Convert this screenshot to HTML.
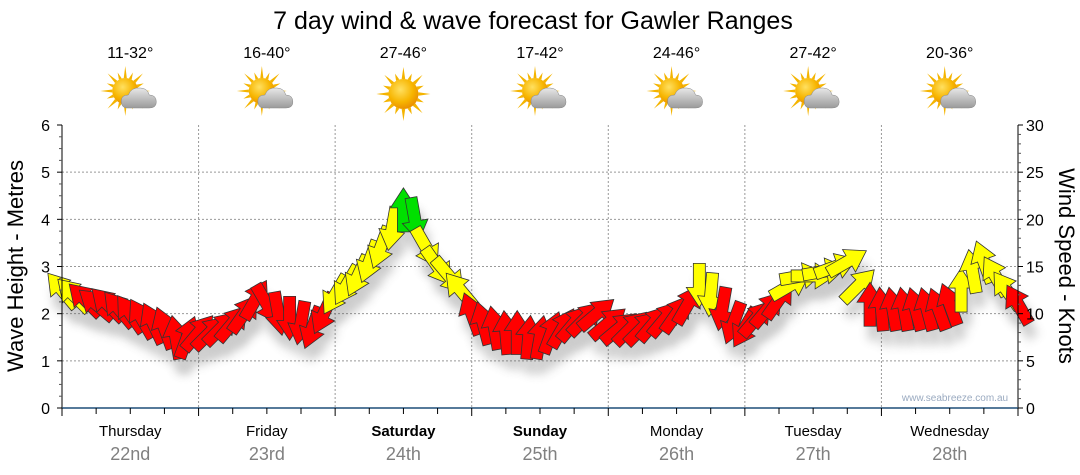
<!DOCTYPE html>
<html><head><meta charset="utf-8"><style>
body{margin:0;background:#fff;}
svg{display:block;font-family:"Liberation Sans",sans-serif;}
</style></head><body>
<svg id="chart" width="1080" height="475" viewBox="0 0 1080 475">
<defs>
<filter id="sh" x="-50%" y="-50%" width="200%" height="200%"><feGaussianBlur stdDeviation="5"/></filter>
<radialGradient id="sunG" cx="40%" cy="35%" r="70%"><stop offset="0" stop-color="#ffe060"/><stop offset="0.6" stop-color="#f7b500"/><stop offset="1" stop-color="#e88a00"/></radialGradient>
<linearGradient id="cloudG" x1="0" y1="0" x2="0" y2="1"><stop offset="0" stop-color="#e8e8e8"/><stop offset="1" stop-color="#9a9a9a"/></linearGradient>
</defs>
<text x="533" y="29" font-size="25" text-anchor="middle" fill="#000">7 day wind &amp; wave forecast for Gawler Ranges</text>
<g id="icons"></g>
<g id="grid"></g>
<g id="shadows" opacity="0.3"></g>
<g id="arrows"></g>
<g id="axes"></g>
<text x="955" y="401" font-size="10" fill="#9aaac0" text-anchor="middle">www.seabreeze.com.au</text>
<text transform="translate(23,266) rotate(-90)" font-size="22" text-anchor="middle">Wave Height - Metres</text>
<text transform="translate(1059,266) rotate(90)" font-size="22" text-anchor="middle">Wind Speed - Knots</text>
</svg>
<script>
const days=["Thursday","Friday","Saturday","Sunday","Monday","Tuesday","Wednesday"];
const dates=["22nd","23rd","24th","25th","26th","27th","28th"];
const boldDays=[false,false,true,true,false,false,false];
const temps=["11-32°","16-40°","27-46°","17-42°","24-46°","27-42°","20-36°"];
const cloudy=[true,true,false,true,true,true,true];
const waveTicks=[0,1,2,3,4,5,6];
const windTicks=[0,5,10,15,20,25,30];
// wind speed (knots) every 2 hours
const windSpeed=[12.5,12,11.5,11,11,10.5,10,9.5,9,8.5,7.5,7.5,
 8,8,8.5,9,10,11.5,11,10,9.5,9,8.5,10,
 12,13,14,15.5,17,19,21,20,17,15,14,12.5,
 10,9,8.5,8,8,7.5,7.5,8,8.5,9,9.5,10,
 9,8.5,8.5,8.5,9,9.5,10,11,13,12,10.5,9,
 8.5,9.5,10.5,11.5,13,14,14,14.5,15,15.5,13,11,
 10.5,10.5,10.5,10.5,10.5,10.5,11,12.5,14.5,15.5,14,12.5,11];
// direction arrow points to, degrees clockwise from up
const windDir=[320,315,315,310,315,320,325,330,335,340,350,20,
 40,45,45,40,35,30,150,170,180,190,200,205,
 210,210,205,200,200,190,0,170,150,145,140,320,
 340,345,350,355,0,5,10,20,30,40,45,50,
 50,50,45,45,40,40,35,30,180,185,190,200,
 210,40,40,35,60,80,90,80,70,60,45,0,
 355,350,350,345,345,340,340,0,350,340,330,325,330];
const X0=62,X1=1018,Y0=408,Y1=125,N=84;
const xOf=i=>X0+(X1-X0)*i/N;
const yW=m=>Y0-(Y0-Y1)*m/6;
const yK=k=>Y0-(Y0-Y1)*k/30;
const NS="http://www.w3.org/2000/svg";
function mk(tag,attrs,parent){const e=document.createElementNS(NS,tag);for(const k in attrs)e.setAttribute(k,attrs[k]);parent.appendChild(e);return e;}
const grid=document.getElementById('grid'),axes=document.getElementById('axes'),arr=document.getElementById('arrows'),shd=document.getElementById('shadows'),icons=document.getElementById('icons');
waveTicks.forEach(t=>{if(t>0&&t<6){const l=mk('line',{x1:X0,x2:X1,y1:yW(t),y2:yW(t),stroke:'#999','stroke-dasharray':'2,2'},grid);

}});
for(let d=1;d<7;d++){const x=X0+(X1-X0)*d/7;const l=mk('line',{x1:x,x2:x,y1:Y1,y2:Y0,stroke:'#999','stroke-dasharray':'2,2'},grid);

}
mk('line',{x1:X0,x2:X0,y1:Y1,y2:Y0,stroke:'#000'},axes);
mk('line',{x1:X1,x2:X1,y1:Y1,y2:Y0,stroke:'#000'},axes);
mk('line',{x1:X0,x2:X1,y1:Y0,y2:Y0,stroke:'#1f4e79','stroke-width':1.5},axes);
for(let q=0;q<=24;q++){const y=yW(q/4);mk('line',{x1:X0-(q%4==0?5:3),x2:X0,y1:y,y2:y,stroke:q%4==0?'#000':'#555'},axes);}
waveTicks.forEach(t=>{const e=mk('text',{x:50,y:yW(t)+6,'font-size':16,'text-anchor':'end'},axes);e.textContent=t;

});
for(let k=0;k<=30;k++){const y=yK(k);mk('line',{x1:X1,x2:X1+(k%5==0?5:3),y1:y,y2:y,stroke:k%5==0?'#000':'#555'},axes);}
windTicks.forEach(t=>{const e=mk('text',{x:1026,y:yK(t)+6,'font-size':16},axes);e.textContent=t;

});
for(let h=0;h<=28;h++){const x=X0+(X1-X0)*h/28;mk('line',{x1:x,x2:x,y1:Y0,y2:Y0+(h%4==0?8:6),stroke:'#000'},axes);}
days.forEach((d,i)=>{const cx=X0+(X1-X0)*(i+0.5)/7;
const t=mk('text',{x:cx,y:436,'font-size':15,'text-anchor':'middle','font-weight':boldDays[i]?'bold':'normal'},axes);t.textContent=d;


const t2=mk('text',{x:cx,y:460,'font-size':18,'text-anchor':'middle',fill:'#808080'},axes);t2.textContent=dates[i];


const t3=mk('text',{x:cx,y:58,'font-size':16,'text-anchor':'middle'},icons);t3.textContent=temps[i];


const g=mk('g',{transform:`translate(${cx},94)`},icons);


const sx=cloudy[i]?-5:0,sy=cloudy[i]?-3:0,r=cloudy[i]?13:15;
for(let a=0;a<16;a++){const ang=a*Math.PI/8;const L=a%2?r+7:r+12;
mk('polygon',{points:`${sx+Math.cos(ang-0.12)*r},${sy+Math.sin(ang-0.12)*r} ${sx+Math.cos(ang)*L},${sy+Math.sin(ang)*L} ${sx+Math.cos(ang+0.12)*r},${sy+Math.sin(ang+0.12)*r}`,fill:'#f4b400'},g);}
mk('circle',{cx:sx,cy:sy,r:r,fill:'url(#sunG)'},g);
if(cloudy[i]){mk('path',{d:'M-3,14 Q-9,14 -9,7 Q-9,1 -2,1 Q1,-7 10,-6 Q17,-6 19,1 Q26,1 26,8 Q26,14 19,14 Z',fill:'url(#cloudG)',stroke:'#888','stroke-width':0.5},g);}
});
const colOf=k=>k>=20?'#00e000':(k>=12?'#ffff00':'#ff0000');
const shape="M0,-22 L13,-2 L6,-2 L6,22 L-6,22 L-6,-2 L-13,-2 Z";
windSpeed.forEach((k,i)=>{const x=xOf(i),y=yK(k),a=windDir[i];
const s=mk('path',{d:shape,transform:`translate(${x+4},${y+14}) rotate(${a})`,fill:'#555',filter:'url(#sh)'},shd);


const p=mk('path',{d:shape,transform:`translate(${x},${y}) rotate(${a})`,fill:colOf(k),stroke:'#333','stroke-width':0.8,'stroke-linejoin':'miter'},arr);

});
</script>
</body></html>
